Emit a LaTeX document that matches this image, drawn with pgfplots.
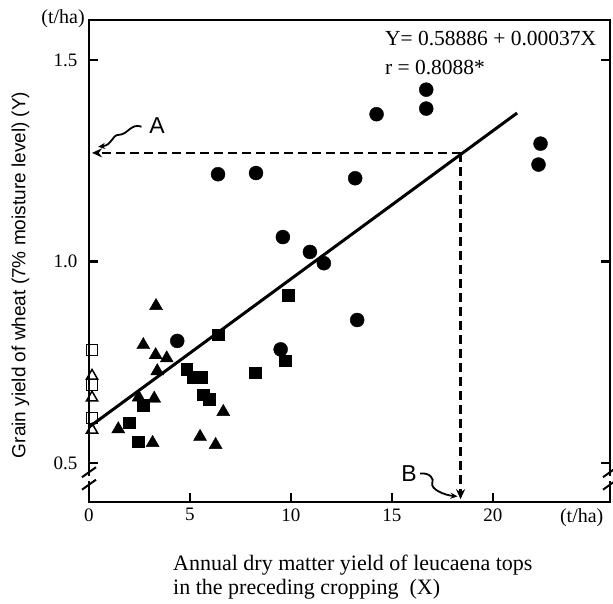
\documentclass[border=0pt]{standalone}
\usepackage{pgfplots}
\pgfplotsset{compat=1.18}
\usepackage{fontspec}
\setmainfont{Liberation Serif}
\newfontfamily\sansf{Liberation Sans}
\usetikzlibrary{arrows.meta}
\begin{document}
\begin{tikzpicture}[x=1pt,y=1pt]
\begin{axis}[
 at={(0,0)}, anchor=south west,
 scale only axis, width=521pt, height=482pt,
 xmin=0, xmax=25.8, ymin=0.403, ymax=1.6,
 axis line style={line width=2.6pt},
 xtick={0,5,10,15,20}, xticklabels={0,5,10,15,20},
 ytick={0.5,1.0,1.5}, yticklabels={0.5,1.0,1.5},
 extra x ticks={24.4}, extra x tick labels={(t/ha)},
 extra x tick style={major tick length=0pt, xticklabel style={font=\fontsize{20}{22}\selectfont}},
 xtick pos=lower, ytick pos=both, tick align=inside,
 major tick length=9pt, tick style={line width=2.4pt, black},
 /pgf/number format/assume math mode=true,
 ticklabel style={font=\fontsize{19}{21}\selectfont},
 yticklabel style={xshift=-8pt},
 xticklabel style={yshift=-3pt},
 clip=false,
]
% regression line
\addplot[line width=3pt, black] coordinates {(0,0.589) (21.2,1.369)};
% dashed guides
\addplot[line width=2.6pt, black, dash pattern=on 9pt off 5pt, -{Stealth[length=10pt,width=9pt]}] coordinates {(18.4,1.27) (0.15,1.27)};
\addplot[line width=2.6pt, black, dash pattern=on 9pt off 5pt, -{Stealth[length=10pt,width=9pt]}] coordinates {(18.4,1.27) (18.4,0.41)};
% filled circles
\addplot[only marks, mark=*, mark size=7pt, black] coordinates {
(16.7,1.427) (16.7,1.38) (14.24,1.366) (22.36,1.293) (22.26,1.241) (13.18,1.207)
(10.94,1.024) (11.63,0.996) (13.28,0.855) (6.39,1.217) (8.27,1.22) (9.6,1.061)
(9.49,0.782) (4.37,0.803)};
% filled squares
\addplot[only marks, mark=square*, mark size=5.8pt, black] coordinates {
(6.4,0.818) (4.84,0.733) (5.13,0.713) (5.58,0.713) (5.66,0.669) (5.94,0.658)
(8.23,0.724) (9.72,0.754) (2.69,0.644) (1.98,0.60) (2.44,0.553) (9.85,0.917)};
% filled triangles
\addplot[only marks, mark=triangle*, mark size=7.5pt, black] coordinates {
(3.32,0.89) (2.69,0.793) (3.3,0.768) (3.85,0.76) (3.38,0.728) (3.23,0.66)
(2.46,0.663) (6.65,0.627) (1.45,0.584) (3.15,0.55) (5.5,0.565) (6.27,0.545)};
% open squares
\addplot[only marks, mark=square, mark size=5.5pt, black, mark options={line width=1.5pt, fill=white}] coordinates {
(0.15,0.78) (0.15,0.694) (0.15,0.611)};
% open triangles
\addplot[only marks, mark=triangle, mark size=6.5pt, black, mark options={line width=1.5pt}] coordinates {
(0.15,0.716) (0.15,0.662) (0.15,0.582)};
% axis breaks
\draw[white, line width=4pt] (axis cs:0,0.468) -- (axis cs:0,0.455);
\draw[black, line width=2pt] ([xshift=-7pt,yshift=-5pt]axis cs:0,0.477) -- ([xshift=7pt,yshift=5pt]axis cs:0,0.477);
\draw[black, line width=2pt] ([xshift=-7pt,yshift=-5pt]axis cs:0,0.446) -- ([xshift=7pt,yshift=5pt]axis cs:0,0.446);
\draw[white, line width=4pt] (axis cs:25.8,0.468) -- (axis cs:25.8,0.455);
\draw[black, line width=2pt] ([xshift=-7pt,yshift=-5pt]axis cs:25.8,0.477) -- ([xshift=7pt,yshift=5pt]axis cs:25.8,0.477);
\draw[black, line width=2pt] ([xshift=-7pt,yshift=-5pt]axis cs:25.8,0.446) -- ([xshift=7pt,yshift=5pt]axis cs:25.8,0.446);
% texts
\node[anchor=east, font=\fontsize{20}{22}\selectfont, inner sep=0pt] at (axis cs:-0.2,1.604) {(t/ha)};
\node[anchor=west, font=\fontsize{21.5}{23}\selectfont, inner sep=0pt] at (axis cs:14.65,1.555) {Y= 0.58886 + 0.00037X};
\node[anchor=west, font=\fontsize{21.5}{23}\selectfont, inner sep=0pt] at (axis cs:14.65,1.483) {r = 0.8088*};
\node[font=\sansf\fontsize{23}{25}\selectfont, inner sep=0pt] at (axis cs:3.37,1.339) {A};
\node[font=\sansf\fontsize{23}{25}\selectfont, inner sep=0pt] at (axis cs:15.85,0.474) {B};
\draw[line width=1.8pt, -{Stealth[length=7pt,width=6pt]}] (axis cs:2.6,1.335) .. controls (axis cs:2.1,1.345) and (axis cs:1.9,1.315) .. (axis cs:1.5,1.315) .. controls (axis cs:1.1,1.315) and (axis cs:1.2,1.29) .. (axis cs:0.45,1.285);
\draw[line width=1.8pt, -{Stealth[length=7pt,width=6pt]}] (axis cs:16.4,0.474) .. controls (axis cs:16.9,0.476) and (axis cs:17.1,0.46) .. (axis cs:17.0,0.45) .. controls (axis cs:16.9,0.435) and (axis cs:17.6,0.42) .. (axis cs:18.25,0.417);
\node[rotate=90, font=\sansf\fontsize{19}{21}\selectfont] at (axis cs:-3.4,0.967) {Grain yield of wheat (7\% moisture level) (Y)};
\node[anchor=north west, align=left, font=\fontsize{22}{24}\selectfont, inner sep=0pt] at (axis cs:4.16,0.272) {Annual dry matter yield of leucaena tops\\in the preceding cropping\ \ (X)};
\end{axis}
\pgfresetboundingbox
\path[use as bounding box] (-89,-101) rectangle (524,502);
\end{tikzpicture}
\end{document}
